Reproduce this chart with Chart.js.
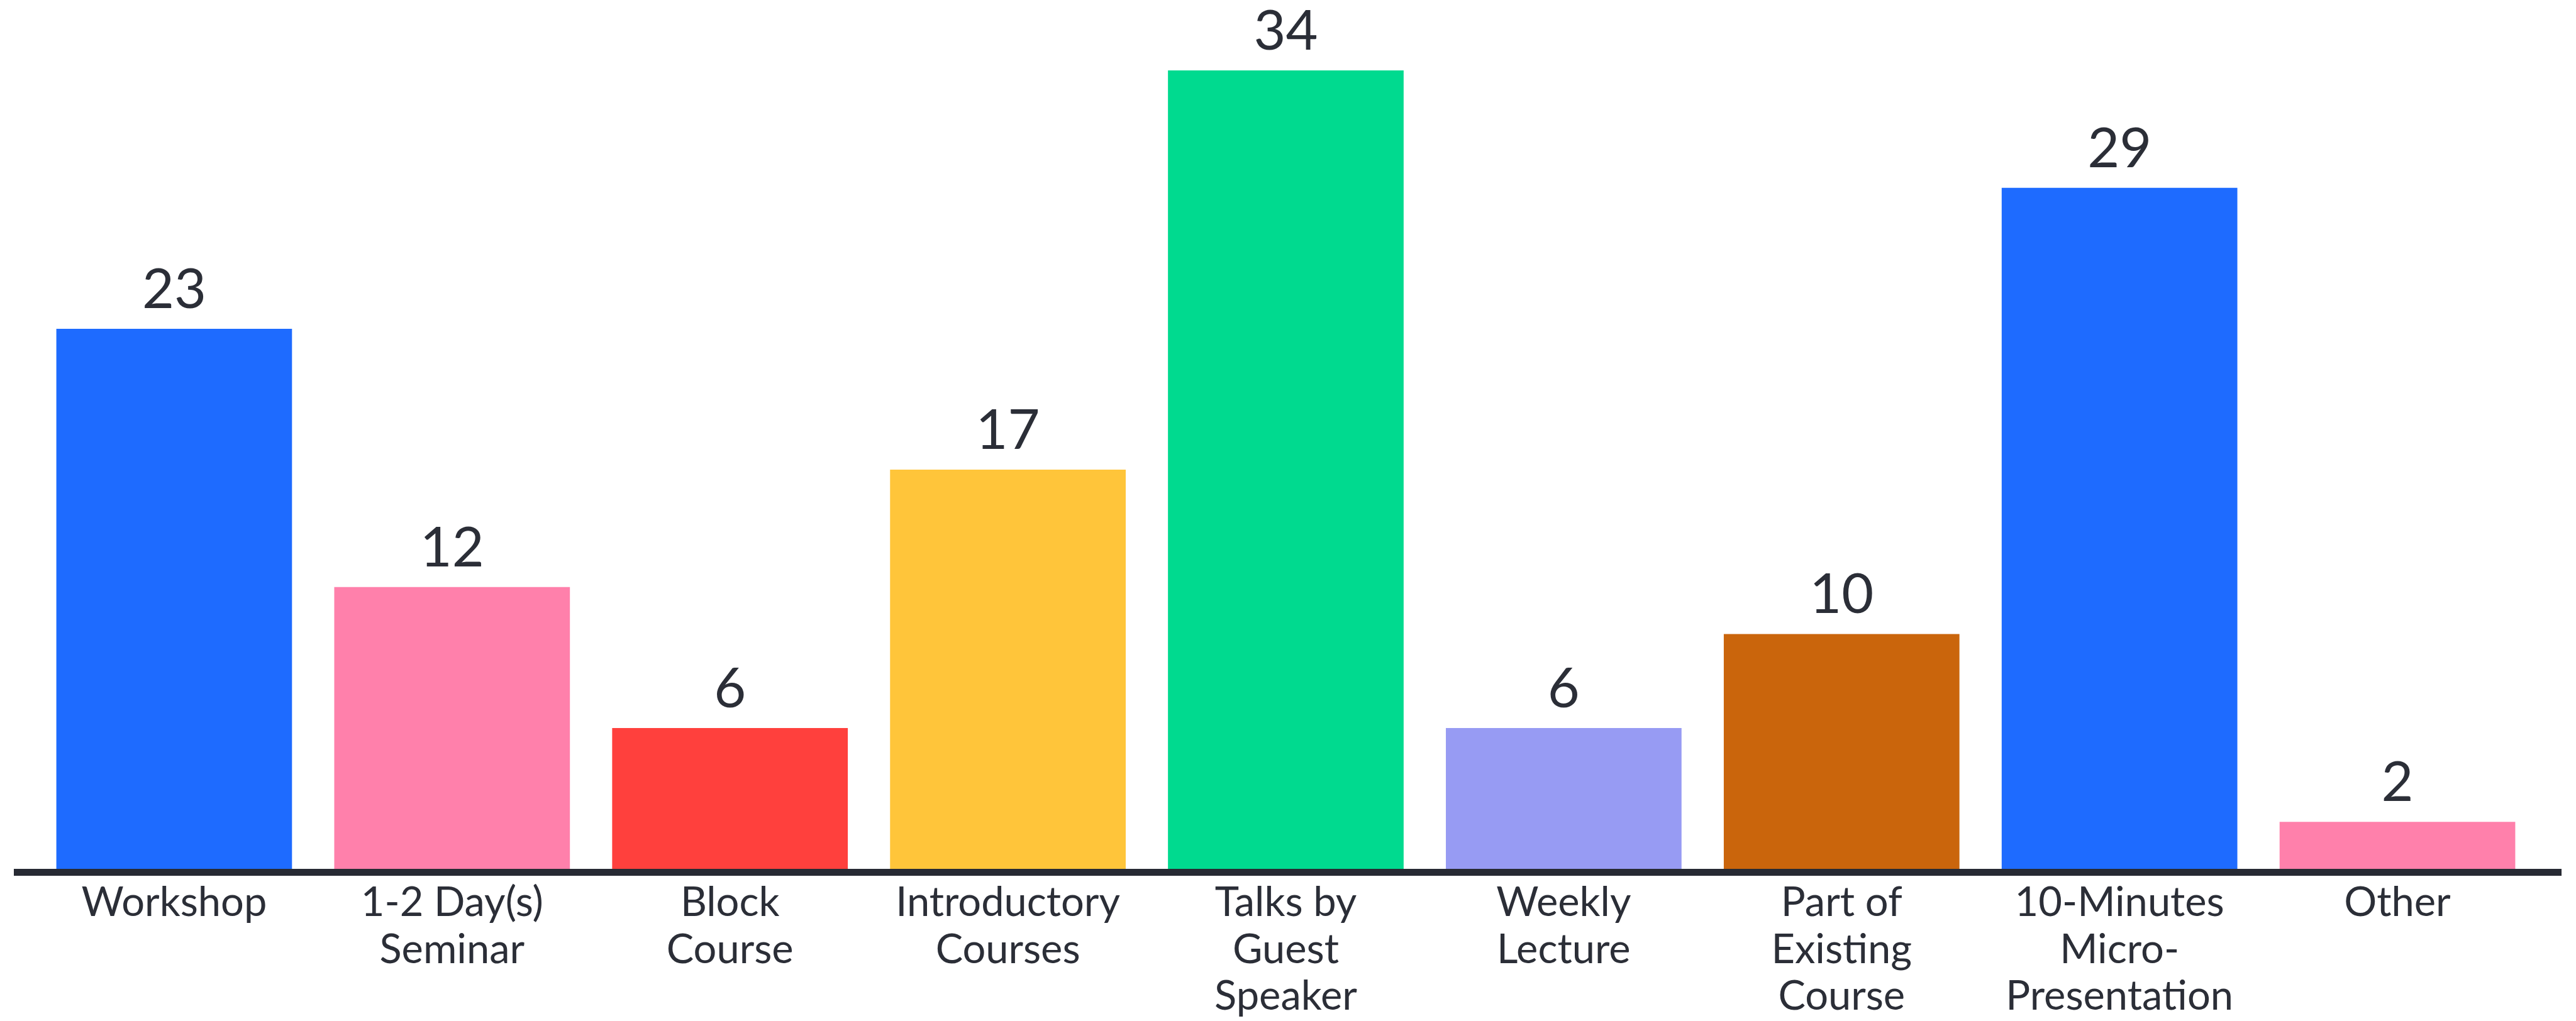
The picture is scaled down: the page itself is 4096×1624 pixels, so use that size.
<!DOCTYPE html>
<html>
<head>
<meta charset="utf-8">
<title>Formats</title>
<script src="https://cdn.jsdelivr.net/npm/chart.js@4/dist/chart.umd.min.js"></script>
<style>
  html, body { margin: 0; padding: 0; background: #ffffff; }
  #wrap { width: 4096px; height: 1624px; }
</style>
</head>
<body>
<div id="wrap"><canvas id="formatChart" width="4096" height="1624"></canvas></div>
<script>
// ── Data ─────────────────────────────────────────────────────────
const categories = [
  'Workshop',
  ['1-2 Day(s)', 'Seminar'],
  ['Block', 'Course'],
  ['Introductory', 'Courses'],
  ['Talks by', 'Guest', 'Speaker'],
  ['Weekly', 'Lecture'],
  ['Part of', 'Existing', 'Course'],
  ['10-Minutes', 'Micro-', 'Presentation'],
  'Other'
];
const counts = [23, 12, 6, 17, 34, 6, 10, 29, 2];
const barColors = ['#1E6BFF', '#FF80AB', '#FF403D', '#FFC53A', '#00DA8F', '#979BF3', '#CA650C', '#1E6BFF', '#FF80AB'];

const TEXT = '#2B2E37';
const FONT = 'Lato, "Noto Sans", sans-serif';

// Value labels above each bar
const valueLabels = {
  id: 'valueLabels',
  afterDatasetsDraw(chart) {
    const ctx = chart.ctx;
    const meta = chart.getDatasetMeta(0);
    ctx.save();
    ctx.fillStyle = TEXT;
    ctx.font = '88px ' + FONT;
    ctx.textAlign = 'center';
    ctx.textBaseline = 'alphabetic';
    meta.data.forEach((bar, i) => {
      ctx.fillText(String(counts[i]), bar.x, bar.y - 33);
    });
    ctx.restore();
  }
};

// Thick baseline, wider than the plot area
const baseLine = {
  id: 'baseLine',
  afterDatasetsDraw(chart) {
    const { ctx, chartArea } = chart;
    ctx.save();
    ctx.fillStyle = '#272A33';
    ctx.fillRect(chartArea.left - 34, chartArea.bottom, chartArea.right - chartArea.left + 74, 11);
    ctx.restore();
  }
};

new Chart(document.getElementById('formatChart').getContext('2d'), {
  type: 'bar',
  data: {
    labels: categories,
    datasets: [{
      data: counts,
      backgroundColor: barColors,
      borderWidth: 0,
      categoryPercentage: 1,
      barPercentage: 0.848
    }]
  },
  options: {
    responsive: false,
    animation: false,
    devicePixelRatio: 1,
    layout: { padding: { left: 56, right: 63, top: 0, bottom: 0 } },
    plugins: { legend: { display: false }, tooltip: { enabled: false } },
    scales: {
      x: {
        grid: { display: false, drawTicks: false },
        border: { display: false },
        ticks: {
          color: TEXT,
          font: { family: FONT, size: 65, lineHeight: 1.145 },
          padding: 17,
          autoSkip: false,
          maxRotation: 0,
          minRotation: 0
        },
        afterFit(scale) { scale.height = 242; }
      },
      y: {
        display: false,
        min: 0,
        max: 37
      }
    }
  },
  plugins: [valueLabels, baseLine]
});
</script>
</body>
</html>
